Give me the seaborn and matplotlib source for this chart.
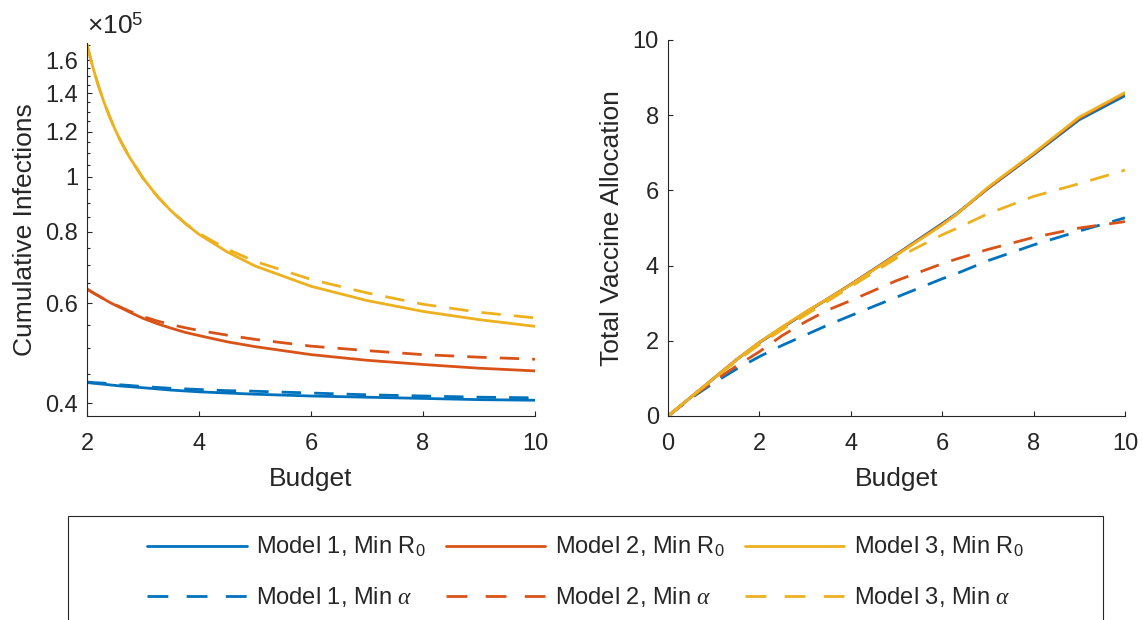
import matplotlib
matplotlib.use("Agg")
import matplotlib.pyplot as plt
import numpy as np
import pandas as pd
import seaborn as sns
from matplotlib.lines import Line2D
from matplotlib.patches import Rectangle
from matplotlib.ticker import FixedLocator, NullFormatter

# --- data (infections in units of 1e5) ---
budget_inf = [2, 2.1, 2.2, 2.3, 2.4, 2.5, 2.6, 2.75, 3, 3.25, 3.5, 3.75, 4, 4.5, 5, 6, 7, 8, 9, 10]
inf_m1_r0 = [0.435, 0.434, 0.433, 0.432, 0.431, 0.430, 0.429, 0.428, 0.426, 0.424, 0.422, 0.4205,
             0.419, 0.417, 0.415, 0.412, 0.410, 0.408, 0.406, 0.405]
inf_m1_alpha = [0.436, 0.435, 0.4345, 0.434, 0.433, 0.432, 0.431, 0.430, 0.428, 0.4265, 0.425, 0.424,
                0.423, 0.421, 0.420, 0.417, 0.414, 0.412, 0.410, 0.409]
inf_m2_r0 = [0.635, 0.626, 0.618, 0.610, 0.602, 0.595, 0.589, 0.579, 0.564, 0.552, 0.542, 0.533,
             0.526, 0.513, 0.503, 0.487, 0.476, 0.468, 0.461, 0.456]
inf_m2_alpha = [0.635, 0.626, 0.618, 0.610, 0.603, 0.596, 0.590, 0.581, 0.568, 0.558, 0.550, 0.543,
                0.537, 0.527, 0.518, 0.504, 0.495, 0.487, 0.482, 0.478]
inf_m3_r0 = [1.705, 1.562, 1.448, 1.354, 1.277, 1.211, 1.155, 1.085, 0.994, 0.925, 0.871, 0.828,
             0.792, 0.738, 0.697, 0.642, 0.606, 0.580, 0.561, 0.546]
inf_m3_alpha = [1.705, 1.562, 1.448, 1.354, 1.277, 1.211, 1.155, 1.085, 0.994, 0.925, 0.871, 0.829,
                0.795, 0.746, 0.710, 0.660, 0.625, 0.597, 0.578, 0.565]

budget_vac = [0, 0.5, 1, 1.5, 2, 2.5, 3, 3.5, 4, 5, 6, 6.3, 7, 8, 9, 10]
vac_m1_r0 = [0, 0.5, 1.0, 1.5, 1.95, 2.35, 2.74, 3.12, 3.5, 4.3, 5.12, 5.37, 6.05, 6.95, 7.88, 8.52]
vac_m1_alpha = [0, 0.47, 0.88, 1.25, 1.58, 1.88, 2.15, 2.42, 2.67, 3.16, 3.65, 3.78, 4.13, 4.55, 4.92, 5.27]
vac_m2_r0 = [0, 0.5, 1.0, 1.5, 1.96, 2.36, 2.75, 3.12, 3.5, 4.29, 5.1, 5.35, 6.06, 6.97, 7.92, 8.58]
vac_m2_alpha = [0, 0.48, 0.93, 1.33, 1.71, 2.14, 2.5, 2.82, 3.07, 3.6, 4.05, 4.17, 4.43, 4.75, 5.0, 5.17]
vac_m3_r0 = [0, 0.5, 1.0, 1.5, 1.96, 2.37, 2.76, 3.12, 3.49, 4.28, 5.08, 5.35, 6.08, 6.99, 7.95, 8.6]
vac_m3_alpha = [0, 0.5, 0.99, 1.46, 1.9, 2.3, 2.68, 3.06, 3.44, 4.2, 4.82, 4.98, 5.38, 5.84, 6.18, 6.54]

models = ["Model 1", "Model 2", "Model 3"]
objectives = ["Min R0", "Min alpha"]
obj_tex = {"Min R0": "Min R$_0$", "Min alpha": r"Min $\alpha$"}
colors = ["#0072BD", "#D95319", "#EDB120"]

inf_ticks = [0.4, 0.6, 0.8, 1, 1.2, 1.4, 1.6]
inf_tick_labels = ["0.4", "0.6", "0.8", "1", "1.2", "1.4", "1.6"]


def long_frame(budget, series, scale=1.0):
    rows = []
    for (m, o), vals in series.items():
        for b, v in zip(budget, vals):
            rows.append({"Budget": b, "value": v * scale, "Model": m, "Objective": o})
    return pd.DataFrame(rows)


df_inf = long_frame(budget_inf, {
    ("Model 1", "Min R0"): inf_m1_r0, ("Model 1", "Min alpha"): inf_m1_alpha,
    ("Model 2", "Min R0"): inf_m2_r0, ("Model 2", "Min alpha"): inf_m2_alpha,
    ("Model 3", "Min R0"): inf_m3_r0, ("Model 3", "Min alpha"): inf_m3_alpha,
}, scale=1e5)
df_vac = long_frame(budget_vac, {
    ("Model 1", "Min R0"): vac_m1_r0, ("Model 1", "Min alpha"): vac_m1_alpha,
    ("Model 2", "Min R0"): vac_m2_r0, ("Model 2", "Min alpha"): vac_m2_alpha,
    ("Model 3", "Min R0"): vac_m3_r0, ("Model 3", "Min alpha"): vac_m3_alpha,
})

sns.set_style("ticks")
plt.rcParams.update({
    "font.family": ["Liberation Sans", "DejaVu Sans"],
    "mathtext.fontset": "custom",
    "mathtext.rm": "Liberation Sans",
    "mathtext.it": "Liberation Serif:italic",
    "mathtext.bf": "Liberation Sans:bold",
    "text.color": "#262626",
    "axes.labelcolor": "#262626",
    "axes.edgecolor": "#262626",
    "xtick.color": "#262626",
    "ytick.color": "#262626",
    "axes.linewidth": 0.8,
})

fig = plt.figure(figsize=(11.43, 6.2), dpi=100)
W, H = 1143, 620
ax1 = fig.add_axes([87 / W, 1 - 416 / H, 448 / W, 373.5 / H])
ax2 = fig.add_axes([668 / W, 1 - 416 / H, 457 / W, 376 / H])

dash_map = {"Min R0": "", "Min alpha": (7, 4.7)}
for ax, df in [(ax1, df_inf), (ax2, df_vac)]:
    sns.lineplot(data=df, x="Budget", y="value", hue="Model", style="Objective",
                 hue_order=models, style_order=objectives, palette=colors,
                 dashes=dash_map, linewidth=2, estimator=None, legend=False, ax=ax)
    sns.despine(ax=ax)
    ax.tick_params(which="major", direction="in", length=3.6, width=0.8, labelsize=17)
    ax.tick_params(which="minor", direction="in", length=2.2, width=0.8)
    ax.tick_params(axis="x", pad=12)
    ax.tick_params(axis="y", pad=6.5)
    ax.set_xlabel("Budget", fontsize=19, labelpad=9)

# left panel: log scale
ax1.set_yscale("log")
ax1.set_xlim(2, 10)
ax1.set_ylim(0.38e5, 1.72e5)
ax1.set_xticks([2, 4, 6, 8, 10])
ax1.yaxis.set_major_locator(FixedLocator([t * 1e5 for t in inf_ticks]))
ax1.set_yticklabels(inf_tick_labels)
minor = [round(0.4 + 0.05 * k, 2) for k in range(27)]
minor = [m * 1e5 for m in minor if m not in inf_ticks]
ax1.yaxis.set_minor_locator(FixedLocator(minor))
ax1.yaxis.set_minor_formatter(NullFormatter())
ax1.set_ylabel("Cumulative Infections", fontsize=19, labelpad=6)
ax1.annotate(r"$\times 10^{5}$", xy=(0, 1), xycoords="axes fraction",
             xytext=(0, 3), textcoords="offset points", ha="left", va="bottom",
             fontsize=19)

# right panel
ax2.set_xlim(0, 10)
ax2.set_ylim(0, 10)
ax2.set_xticks([0, 2, 4, 6, 8, 10])
ax2.set_yticks([0, 2, 4, 6, 8, 10])
ax2.set_ylabel("Total Vaccine Allocation", fontsize=19, labelpad=6)

# legend: column-major 3x2, proxies so the dashed keys show three full dashes
handles, labels = [], []
for m, c in zip(models, colors):
    for o in objectives:
        ls = "-" if o == "Min R0" else (0, (7.5, 6.6))
        handles.append(Line2D([], [], color=c, linewidth=2, linestyle=ls))
        labels.append(f"{m}, {obj_tex[o]}")
fig.legend(handles, labels, loc="center", bbox_to_anchor=(585.5 / W, 1 - 572 / H),
           ncol=3, frameon=False, fontsize=17, handlelength=4.2, handletextpad=0.42,
           columnspacing=0.85, labelspacing=1.1)
fig.patches.append(Rectangle((68 / W, -0.05), (1103 - 68) / W, 0.05 + 1 - 516 / H,
                             transform=fig.transFigure, fill=False,
                             edgecolor="#262626", linewidth=0.8))

fig.savefig("out.png", dpi=100)
